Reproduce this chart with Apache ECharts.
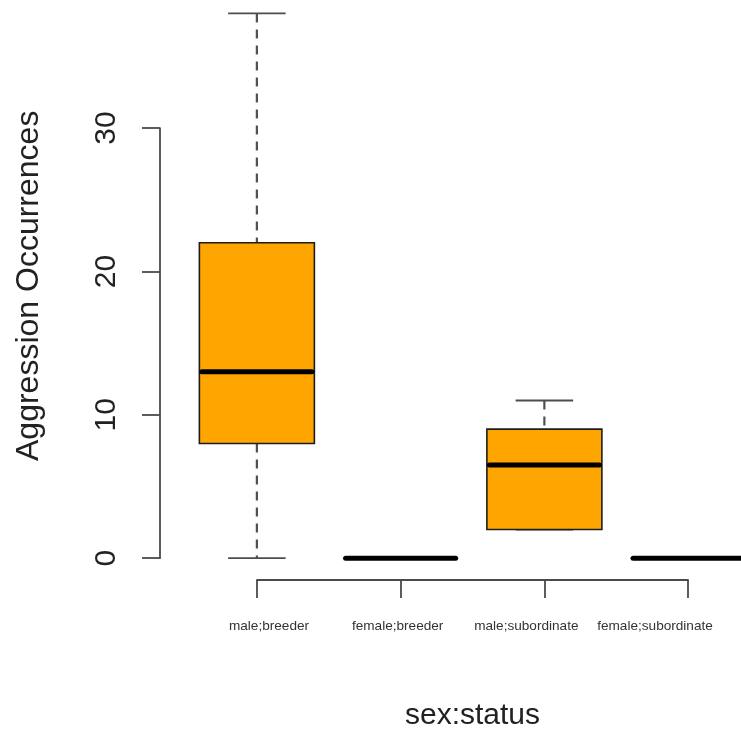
<!DOCTYPE html>
<html>
<head>
<meta charset="utf-8">
<title>Aggression Occurrences by sex:status</title>
<script src="https://cdn.jsdelivr.net/npm/echarts@6/dist/echarts.min.js"></script>
<style>
  html, body { margin: 0; padding: 0; background: #fff; }
  #chart { width: 741px; height: 732px; }
</style>
</head>
<body>
<div id="chart"></div>
<script>
// Groups and five-number summaries of aggression counts
const categories = ['male;breeder', 'female;breeder', 'male;subordinate', 'female;subordinate'];
const whiskerLow = [0, 0, 2, 0];
const lowerQuartile = [8, 0, 2, 0];
const medians = [13, 0, 6.5, 0];
const upperQuartile = [22, 0, 9, 0];
const whiskerHigh = [38, 0, 11, 0];
const yTicks = [0, 10, 20, 30];

const FONT = '"Liberation Sans", Arial, Helvetica, sans-serif';
const INK = '#222';
const AXIS = '#4a4a4a';

// R-style plot region: y range padded by 4% of the data span
const dataMin = Math.min(...whiskerLow), dataMax = Math.max(...whiskerHigh);
const pad = (dataMax - dataMin) * 0.04;

const boxData = categories.map((c, i) => [
  i, whiskerLow[i], lowerQuartile[i], medians[i], upperQuartile[i], whiskerHigh[i]
]);

const MEDIAN_W = 5;

function renderBox(params, api) {
  const i = api.value(0);
  const pLo = api.coord([i, api.value(1)]);
  const pQ1 = api.coord([i, api.value(2)]);
  const pMed = api.coord([i, api.value(3)]);
  const pQ3 = api.coord([i, api.value(4)]);
  const pHi = api.coord([i, api.value(5)]);
  const band = api.size([1, 0])[0];
  const boxW = band * 0.8;
  const capW = boxW * 0.5;
  const cx = pMed[0];
  const children = [];
  const dashStyle = { stroke: '#505050', lineWidth: 2.2, lineDash: [9, 7] };
  const capStyle = { stroke: '#4d4d4d', lineWidth: 1.8 };
  if (pHi[1] < pQ3[1]) {
    children.push({ type: 'line', shape: { x1: cx, y1: pHi[1], x2: cx, y2: pQ3[1] }, style: dashStyle });
  }
  if (pLo[1] > pQ1[1]) {
    children.push({ type: 'line', shape: { x1: cx, y1: pQ1[1], x2: cx, y2: pLo[1] }, style: dashStyle });
  }
  children.push({ type: 'line', shape: { x1: cx - capW / 2, y1: pHi[1], x2: cx + capW / 2, y2: pHi[1] }, style: capStyle });
  children.push({ type: 'line', shape: { x1: cx - capW / 2, y1: pLo[1], x2: cx + capW / 2, y2: pLo[1] }, style: capStyle });
  children.push({
    type: 'rect',
    shape: { x: cx - boxW / 2, y: pQ3[1], width: boxW, height: pQ1[1] - pQ3[1] },
    style: { fill: '#FFA500', stroke: '#1c1c1c', lineWidth: 1.6 }
  });
  // rounded median bar kept inside the box edges
  children.push({
    type: 'line',
    shape: {
      x1: cx - boxW / 2 + MEDIAN_W / 2, y1: pMed[1],
      x2: cx + boxW / 2 - MEDIAN_W / 2, y2: pMed[1]
    },
    style: { stroke: '#000', lineWidth: MEDIAN_W, lineCap: 'round' }
  });
  return { type: 'group', children };
}

const chart = echarts.init(document.getElementById('chart'), null, { renderer: 'canvas' });

chart.setOption({
  animation: false,
  backgroundColor: '#fff',
  textStyle: { fontFamily: FONT },
  grid: [
    // plot region holding the boxes (extends past the canvas edges)
    { left: 185, width: 575, top: -8.4, bottom: 152, outerBoundsMode: 'none', containLabel: false },
    // left value axis, spanning first to last tick
    { left: 160, width: 10, top: 128.1, bottom: 173.8, outerBoundsMode: 'none' },
    // bottom axis line with ticks at each group
    { left: 257, right: 53, top: 560, bottom: 152, outerBoundsMode: 'none' },
    // group labels
    { left: 269, right: 86, top: 560, bottom: 152, outerBoundsMode: 'none' }
  ],
  xAxis: [
    {
      gridIndex: 0, type: 'category', data: categories, boundaryGap: true,
      axisLine: { show: false }, axisTick: { show: false }, axisLabel: { show: false },
      splitLine: { show: false },
      name: 'sex:status', nameLocation: 'middle', nameGap: 121,
      nameTextStyle: { fontSize: 30, color: INK, fontFamily: FONT }
    },
    { gridIndex: 1, type: 'value', show: false },
    {
      gridIndex: 2, type: 'category', data: categories, boundaryGap: false,
      axisLine: { show: true, lineStyle: { color: AXIS, width: 1.8 } },
      axisTick: { show: true, length: 18, inside: false, alignWithLabel: true, lineStyle: { color: AXIS, width: 1.8 } },
      axisLabel: { show: false }, splitLine: { show: false }
    },
    {
      gridIndex: 3, type: 'category', data: categories, boundaryGap: false,
      axisLine: { show: false }, axisTick: { show: false }, splitLine: { show: false },
      axisLabel: {
        show: true, interval: 0, margin: 39, fontSize: 13.6, color: '#333', fontFamily: FONT
      }
    }
  ],
  yAxis: [
    {
      gridIndex: 0, type: 'value', min: dataMin - pad, max: dataMax + pad,
      axisLine: { show: false }, axisTick: { show: false }, axisLabel: { show: false },
      splitLine: { show: false },
      name: 'Aggression Occurrences', nameLocation: 'middle', nameRotate: 90, nameGap: 140,
      nameTextStyle: { fontSize: 32, color: INK, fontFamily: FONT }
    },
    {
      gridIndex: 1, type: 'value', min: yTicks[0], max: yTicks[yTicks.length - 1],
      interval: yTicks[1] - yTicks[0],
      axisLine: { show: true, lineStyle: { color: AXIS, width: 1.8 } },
      axisTick: { show: true, length: 18, inside: false, lineStyle: { color: AXIS, width: 1.8 } },
      axisLabel: { show: true, rotate: 90, margin: 38, fontSize: 30, color: INK, fontFamily: FONT },
      splitLine: { show: false }
    },
    { gridIndex: 2, type: 'value', show: false },
    { gridIndex: 3, type: 'value', show: false }
  ],
  series: [
    {
      type: 'custom',
      xAxisIndex: 0, yAxisIndex: 0,
      renderItem: renderBox,
      encode: { x: 0, y: [1, 2, 3, 4, 5] },
      data: boxData,
      clip: false,
      z: 5
    }
  ]
});
</script>
</body>
</html>
